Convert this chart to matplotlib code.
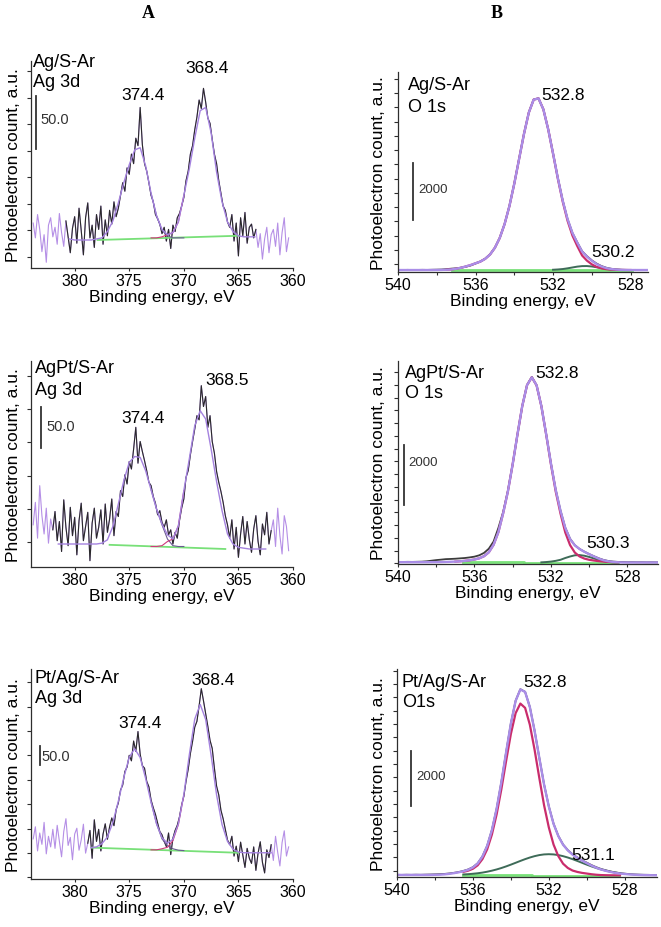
import numpy as np
import matplotlib.pyplot as plt
import matplotlib.transforms as mtransforms
from matplotlib.ticker import MultipleLocator

plt.rcParams['font.family'] = ['Liberation Sans', 'DejaVu Sans']

W, H = 661, 928

# ---------------- column A: Ag 3d ----------------
ag_energy = np.linspace(383.8, 360.4, 118)   # eV, measured points (0.2 eV step)

ag1_counts = [432, 418, 440, 426, 405, 421, 395, 430, 437, 419,
              428, 412, 441, 423, 410, 434, 419, 404, 427, 438,
              413, 446, 425, 402, 437, 451, 418, 430, 409, 440,
              426, 448, 412, 435, 420, 444, 431, 452, 438, 446,
              458, 470, 462, 484, 478, 497, 488, 512, 505, 541,
              506, 488, 481, 470, 458, 452, 440, 436, 431, 422,
              428, 415, 426, 408, 430, 424, 437, 441, 448, 456,
              472, 481, 497, 505, 520, 532, 548, 540, 559, 546,
              531, 526, 511, 497, 488, 472, 460, 448, 444, 433,
              428, 440, 415, 432, 401, 437, 420, 442, 413, 428,
              431, 418, 426, 409, 422, 398, 417, 428, 404, 421,
              426, 410, 432, 402, 423, 437, 405, 418]
ag2_counts = [421, 448, 405, 468, 432, 410, 441, 399, 428, 415,
              437, 402, 425, 389, 451, 418, 396, 442, 408, 430,
              385, 426, 447, 402, 419, 436, 378, 423, 441, 405,
              418, 439, 398, 446, 412, 428, 452, 408, 437, 431,
              462, 455, 481, 470, 497, 488, 512, 538, 495, 521,
              509, 498, 486, 472, 468, 455, 447, 433, 438, 424,
              418, 427, 409, 415, 398, 412, 405, 426, 441, 452,
              478, 486, 505, 521, 536, 552, 547, 588, 563, 575,
              538, 552, 521, 507, 485, 472, 461, 448, 432, 421,
              405, 427, 392, 418, 382, 410, 431, 398, 425, 403,
              388, 416, 432, 401, 385, 422, 409, 436, 398, 414,
              427, 395, 441, 408, 386, 432, 419, 390]
ag3_counts = [1105, 1138, 1072, 1121, 1090, 1150, 1064, 1112, 1083, 1131,
              1079, 1142, 1098, 1056, 1125, 1160, 1087, 1109, 1048, 1118,
              1134, 1074, 1102, 1145, 1066, 1093, 1128, 1052, 1157, 1098,
              1131, 1072, 1118, 1146, 1104, 1138, 1162, 1141, 1185, 1203,
              1238, 1252, 1289, 1301, 1333, 1318, 1372, 1344, 1398, 1336,
              1305, 1298, 1262, 1247, 1211, 1190, 1172, 1148, 1125, 1116,
              1098, 1084, 1121, 1062, 1107, 1128, 1142, 1165, 1198, 1221,
              1262, 1295, 1338, 1371, 1410, 1426, 1468, 1515, 1482, 1447,
              1412, 1374, 1352, 1298, 1249, 1225, 1183, 1160, 1131, 1102,
              1089, 1112, 1058, 1085, 1043, 1096, 1061, 1027, 1079, 1052,
              1038, 1083, 1019, 1066, 1097, 1041, 1012, 1075, 1054, 1089,
              1046, 1112, 1068, 1031, 1095, 1127, 1058, 1083]

# fitted envelopes (0.5 eV step)
ag1_fit_e = np.linspace(380.5, 363.5, 35)
ag1_fit = [417, 416, 416, 416, 416, 417, 418, 424, 434, 451,
           470, 487, 501, 503, 486, 460, 439, 426, 421, 423,
           433, 458, 483, 512, 538, 541, 517, 480, 452, 433,
           424, 420, 419, 419, 419]
ag2_fit_e = np.linspace(381.5, 362.5, 39)
ag2_fit = [398, 398, 398, 398, 398, 398, 398, 398, 399, 403,
           419, 446, 474, 496, 503, 502, 486, 463, 440, 422,
           409, 404, 420, 462, 500, 540, 558, 548, 512, 473,
           438, 410, 398, 394, 393, 392, 392, 392, 392]
ag3_fit_e = np.linspace(378.5, 362.0, 34)
ag3_fit = [1081, 1083, 1092, 1110, 1150, 1208, 1272, 1328, 1351, 1327,
           1270, 1205, 1146, 1108, 1093, 1104, 1146, 1226, 1334, 1432,
           1472, 1431, 1333, 1225, 1144, 1098, 1077, 1069, 1067, 1067,
           1067, 1067, 1067, 1067]

# 3d5/2 and 3d3/2 components where they separate (valley)
ag_valley_e = np.linspace(373.0, 370.0, 7)
ag1_comp_a = [460, 439, 425, 420, 418, 418, 418]
ag1_comp_b = [418, 418, 419, 421, 423, 433, 458]
ag2_comp_a = [463, 440, 421, 404, 396, 395, 395]
ag2_comp_b = [395, 395, 396, 401, 404, 420, 462]
ag3_comp_a = [1205, 1146, 1105, 1086, 1078, 1074, 1073]
ag3_comp_b = [1075, 1075, 1078, 1082, 1100, 1144, 1225]

# linear backgrounds
ag1_bg_e, ag1_bg = [377.9, 365.0], [416, 420]
ag2_bg_e, ag2_bg = [376.8, 366.2], [397, 392]
ag3_bg_e, ag3_bg = [378.4, 365.0], [1081, 1067]

# range of the fit (data drawn black inside, lilac outside)
ag_windows = [(363.3, 380.8), (361.8, 382.0), (362.0, 378.8)]

# ---------------- column B: O 1s ----------------
o1_energy = np.linspace(540.0, 527.0, 53)     # 0.25 eV step
o23_energy = np.linspace(540.0, 526.25, 56)

o1_counts = [1795, 1792, 1796, 1790, 1793, 1797, 1794, 1799, 1803, 1808,
             1822, 1838, 1850, 1872, 1905, 1950, 2020, 2090, 2190, 2340,
             2575, 2920, 3405, 4040, 4825, 5700, 6570, 7320, 7775, 7818,
             7435, 6733, 5888, 5015, 4230, 3580, 3095, 2760, 2450, 2275,
             2130, 2015, 1930, 1870, 1835, 1812, 1800, 1796, 1793, 1795,
             1791, 1794, 1790]
o1_fit = [1790, 1790, 1790, 1790, 1790, 1790, 1790, 1791, 1792, 1795,
          1800, 1810, 1835, 1870, 1915, 1965, 2026, 2087, 2184, 2335,
          2572, 2917, 3402, 4038, 4820, 5693, 6565, 7317, 7771, 7814,
          7432, 6729, 5884, 5010, 4225, 3577, 3092, 2752, 2438, 2260,
          2115, 1998, 1915, 1858, 1825, 1807, 1797, 1792, 1791, 1790,
          1790, 1790, 1790]
o1_main = [1790, 1790, 1790, 1790, 1790, 1790, 1790, 1791, 1792, 1795,
           1800, 1810, 1835, 1870, 1915, 1965, 2026, 2087, 2184, 2335,
           2572, 2917, 3402, 4038, 4820, 5693, 6565, 7317, 7771, 7814,
           7432, 6729, 5874, 4990, 4190, 3517, 3002, 2632, 2300, 2120,
           1990, 1900, 1850, 1820, 1805, 1797, 1793, 1791, 1790, 1790,
           1790, 1790, 1790]
o1_small_e = np.linspace(532.0, 528.5, 15)
o1_small = [1800, 1810, 1825, 1850, 1880, 1910, 1928, 1930, 1915, 1888,
            1855, 1828, 1810, 1800, 1794]

o2_counts = [1570, 1568, 1572, 1570, 1574, 1578, 1590, 1610, 1630, 1645,
             1662, 1668, 1676, 1688, 1700, 1720, 1745, 1790, 1870, 2010,
             2250, 2700, 3230, 3940, 4830, 5815, 6760, 7460, 7730, 7450,
             6760, 5830, 4850, 3975, 3280, 2710, 2340, 2125, 2000, 1910,
             1830, 1758, 1690, 1635, 1600, 1580, 1570, 1565, 1560, 1562,
             1558, 1560, 1556, 1558, 1555, 1557]
o2_fit = [1560, 1560, 1560, 1560, 1560, 1560, 1560, 1561, 1562, 1564,
          1568, 1573, 1580, 1590, 1605, 1625, 1650, 1690, 1760, 1890,
          2140, 2560, 3191, 3924, 4829, 5820, 6762, 7457, 7716, 7452,
          6757, 5825, 4849, 3969, 3271, 2700, 2330, 2120, 1997, 1905,
          1825, 1750, 1680, 1625, 1590, 1568, 1557, 1552, 1550, 1550,
          1550, 1550, 1550, 1550, 1550, 1550]
o2_main = [1560, 1560, 1560, 1560, 1560, 1560, 1560, 1561, 1562, 1564,
           1568, 1573, 1580, 1590, 1605, 1625, 1650, 1690, 1760, 1890,
           2140, 2560, 3191, 3924, 4829, 5820, 6762, 7457, 7716, 7447,
           6752, 5810, 4819, 3914, 3181, 2550, 2130, 1880, 1750, 1680,
           1640, 1615, 1595, 1580, 1570, 1560, 1555, 1552, 1550, 1550,
           1550, 1550, 1550, 1550, 1550, 1550]
o2_small_e = np.linspace(532.5, 528.5, 17)
o2_small = [1555, 1565, 1580, 1605, 1640, 1700, 1750, 1790, 1797, 1775,
            1735, 1685, 1635, 1595, 1570, 1558, 1552]

o3_counts = [1580, 1576, 1582, 1578, 1584, 1580, 1586, 1590, 1596, 1602,
             1612, 1628, 1652, 1680, 1722, 1775, 1858, 2000, 2248, 2635,
             3210, 3990, 4960, 6045, 7090, 7915, 8335, 8240, 7690, 6826,
             5835, 4870, 4072, 3440, 2996, 2684, 2478, 2326, 2212, 2110,
             2020, 1932, 1856, 1792, 1745, 1702, 1668, 1642, 1622, 1605,
             1594, 1586, 1580, 1578, 1574, 1572]
o3_fit = [1575, 1575, 1575, 1575, 1575, 1575, 1575, 1576, 1579, 1584,
          1596, 1614, 1640, 1670, 1711, 1764, 1848, 1991, 2240, 2628,
          3204, 3986, 4957, 6041, 7086, 7910, 8328, 8236, 7683, 6820,
          5828, 4862, 4064, 3431, 2988, 2674, 2468, 2315, 2200, 2097,
          2005, 1916, 1839, 1775, 1725, 1684, 1650, 1626, 1608, 1593,
          1583, 1575, 1570, 1567, 1564, 1562]
o3_main = [1575, 1575, 1575, 1575, 1575, 1575, 1575, 1576, 1578, 1582,
           1592, 1607, 1630, 1655, 1688, 1731, 1800, 1925, 2150, 2506,
           3044, 3781, 4700, 5725, 6706, 7463, 7813, 7656, 7044, 6131,
           5100, 4110, 3304, 2679, 2260, 1985, 1829, 1735, 1685, 1650,
           1625, 1600, 1582, 1570, 1565, 1562, 1560, 1560, 1560, 1560,
           1560, 1560, 1560, 1560, 1560, 1560]
o3_small = [1570, 1570, 1570, 1570, 1570, 1570, 1570, 1571, 1572, 1573,
            1574, 1577, 1580, 1585, 1593, 1603, 1618, 1636, 1660, 1692,
            1730, 1775, 1827, 1886, 1950, 2017, 2085, 2150, 2209, 2259,
            2298, 2322, 2330, 2322, 2298, 2259, 2209, 2150, 2085, 2017,
            1950, 1886, 1827, 1775, 1730, 1692, 1660, 1636, 1618, 1603,
            1593, 1585, 1580, 1577, 1574, 1573]

o1_bg_e, o1_bg = [537.2, 527.9], [1788, 1788]
o2_bg_e, o2_bg = [536.6, 533.4, 533.4, 528.5], [1560, 1560, 1527, 1527]
o3_bg_e, o3_bg = [536.5, 532.9, 532.9, 528.3], [1582, 1582, 1550, 1550]

o_windows = [(528.0, 537.5), (528.5, 537.0), (528.2, 536.5)]

samples = ['Ag/S-Ar', 'AgPt/S-Ar', 'Pt/Ag/S-Ar']
ag_peaks = [['374.4', '368.4'], ['374.4', '368.5'], ['374.4', '368.4']]
o_peaks = [['532.8', '530.2'], ['532.8', '530.3'], ['532.8', '531.1']]
o_level = ['O 1s', 'O 1s', 'O1s']

# colours
DARK = '#2a2a2a'
RAW_LILAC = '#b58fe6'
ENV_LILAC = '#a482df'
COMP_PURPLE = '#6b5a92'
COMP_PINK = '#d0387a'
BG_GREEN = '#78e078'
O_RED = '#c92c6c'
O_GREEN = '#3e6b58'
O_LILAC = '#aa8ee8'

fig = plt.figure(figsize=(W / 100, H / 100), dpi=100)


def add_axes(box):
    l, t, r, b = box
    return fig.add_axes([l / W, 1 - b / H, (r - l) / W, (b - t) / H])


def to_axes(box, x, y):
    l, t, r, b = box
    return (x - l) / (r - l), (b - y) / (b - t)


def decorate(ax, p):
    box = p['box']
    ax.set_xlim(*p['xlim'])
    ax.set_ylim(*p['ylim'])
    for s in ('top', 'right'):
        ax.spines[s].set_visible(False)
    for s in ('left', 'bottom'):
        ax.spines[s].set_linewidth(0.9)
        ax.spines[s].set_color('#2e2e2e')
    ax.xaxis.set_major_locator(MultipleLocator(p['xstep']))
    if p['xminor']:
        ax.xaxis.set_minor_locator(MultipleLocator(p['xminor']))
    ax.yaxis.set_major_locator(MultipleLocator(p['ystep'], offset=p['yoff']))
    ax.tick_params(axis='y', which='both', direction='out', length=3, width=0.8,
                   color='#2e2e2e', labelleft=False)
    ax.tick_params(axis='x', which='both', direction='out', length=2, width=0.8,
                   color='#2e2e2e', labelsize=11.5, pad=1.5)

    yx, _ = to_axes(box, p['ylabel_x'], 0)
    ax.text(yx, 0.5, 'Photoelectron count, a.u.', transform=ax.transAxes,
            rotation=90, ha='center', va='center', fontsize=12.5)
    _, xy = to_axes(box, 0, box[3] + 21)
    ax.text(0.5, xy, 'Binding energy, eV', transform=ax.transAxes,
            ha='center', va='top', fontsize=12.5)

    for s, x, y in p['names']:
        ax.text(*to_axes(box, x, y), s, transform=ax.transAxes,
                ha='left', va='baseline', fontsize=13)
    for s, x, y in p['peaks']:
        ax.text(*to_axes(box, x, y), s, transform=ax.transAxes,
                ha='center', va='baseline', fontsize=12.5)

    # scale bar
    bx, by = to_axes(box, p['bar_x'], p['bar_bottom'])
    y0 = p['ylim'][0] + by * (p['ylim'][1] - p['ylim'][0])
    trans = mtransforms.blended_transform_factory(ax.transAxes, ax.transData)
    ax.plot([bx, bx], [y0, y0 + p['bar_value']], transform=trans,
            color='#333333', lw=1.3, clip_on=False)
    lx, ly = to_axes(box, *p['bar_label'])
    ax.text(lx, ly, p['bar_text'], transform=ax.transAxes, ha='left',
            va='center', fontsize=p['bar_fs'], color='#333333')


def draw_ag(ax, counts, fit_e, fit, comp_a, comp_b, bg_e, bg, window):
    e = ag_energy
    y = np.array(counts)
    inside = (e >= window[0]) & (e <= window[1])
    ax.plot(e, y, color=RAW_LILAC, lw=0.8)
    ax.plot(e[inside], y[inside], color=DARK, lw=0.8)
    ax.plot(bg_e, bg, color=BG_GREEN, lw=1.3)
    ax.plot(ag_valley_e, comp_a, color=COMP_PURPLE, lw=0.8)
    ax.plot(ag_valley_e, comp_b, color=COMP_PINK, lw=0.8)
    ax.plot(fit_e, fit, color=ENV_LILAC, lw=1.0)


def draw_o(ax, e, counts, fit, main, small_e, small, bg_e, bg, window):
    e = np.asarray(e)
    sel = (e >= window[0]) & (e <= window[1])
    small_e = np.asarray(small_e)
    ssel = (small_e >= window[0]) & (small_e <= window[1])
    ax.plot(e, counts, color='#3c3c3c', lw=1.3)
    ax.plot(bg_e, bg, color=BG_GREEN, lw=2.0)
    ax.plot(small_e[ssel], np.asarray(small)[ssel], color=O_GREEN, lw=1.4)
    ax.plot(e[sel], np.asarray(main)[sel], color=O_RED, lw=1.6)
    ax.plot(e, fit, color=O_LILAC, lw=1.7)


ag_layout = [
    dict(box=(31, 62, 293, 269), ylim=(389.6, 584.8), ystep=25, yoff=0,
         names=[(samples[0], 33.3, 66.7), ('Ag 3d', 33.3, 86.7)],
         peaks=[(ag_peaks[0][0], 143.3, 100), (ag_peaks[0][1], 206.7, 73.3)],
         bar_x=36, bar_bottom=150, bar_label=(40, 120)),
    dict(box=(31, 362, 293, 568), ylim=(370.4, 617.6), ystep=40, yoff=0,
         names=[(samples[1], 35, 373.3), ('Ag 3d', 35, 395)],
         peaks=[(ag_peaks[1][0], 143.3, 423.3), (ag_peaks[1][1], 226.7, 385)],
         bar_x=40.7, bar_bottom=449.3, bar_label=(46, 426.7)),
    dict(box=(31, 670, 293, 880), ylim=(995.4, 1568.7), ystep=66.6, yoff=1.0,
         names=[(samples[2], 35, 683.3), ('Ag 3d', 35, 703.3)],
         peaks=[(ag_peaks[2][0], 140, 728.3), (ag_peaks[2][1], 213.3, 685)],
         bar_x=40, bar_bottom=765.7, bar_label=(41.7, 756.7)),
]
for p in ag_layout:
    p.update(xlim=(384.0, 360.0), xstep=5, xminor=None, ylabel_x=13.3,
             bar_value=50.0, bar_text='50.0', bar_fs=10.5)

o_layout = [
    dict(box=(398, 73, 648, 273), xlim=(540.0, 527.1), ylim=(1721, 8741),
         ystep=500, yoff=0,
         names=[(samples[0], 408.3, 90), (o_level[0], 408.3, 111.7)],
         peaks=[(o_peaks[0][0], 563.3, 100), (o_peaks[0][1], 613.3, 256.7)],
         bar_x=412.7, bar_bottom=220.7, bar_label=(418.3, 189.5)),
    dict(box=(398, 362, 658, 565), xlim=(540.0, 526.4), ylim=(1500, 8260),
         ystep=425, yoff=243,
         names=[(samples[1], 405, 378.3), (o_level[1], 405, 398.3)],
         peaks=[(o_peaks[1][0], 556.7, 378.3), (o_peaks[1][1], 608.3, 548.3)],
         bar_x=404, bar_bottom=506, bar_label=(408.3, 462.8)),
    dict(box=(397, 670, 657, 878), xlim=(540.0, 526.3), ylim=(1500, 9071),
         ystep=485, yoff=274,
         names=[(samples[2], 401.7, 686.7), (o_level[2], 401.7, 706.7)],
         peaks=[(o_peaks[2][0], 545, 686.7), (o_peaks[2][1], 593.3, 860)],
         bar_x=410.7, bar_bottom=806.7, bar_label=(416, 777)),
]
for p in o_layout:
    p.update(xstep=4, xminor=2, ylabel_x=378.3,
             bar_value=2000, bar_text='2000', bar_fs=9.5)

ag_series = [
    (ag1_counts, ag1_fit_e, ag1_fit, ag1_comp_a, ag1_comp_b, ag1_bg_e, ag1_bg),
    (ag2_counts, ag2_fit_e, ag2_fit, ag2_comp_a, ag2_comp_b, ag2_bg_e, ag2_bg),
    (ag3_counts, ag3_fit_e, ag3_fit, ag3_comp_a, ag3_comp_b, ag3_bg_e, ag3_bg),
]
o_series = [
    (o1_energy, o1_counts, o1_fit, o1_main, o1_small_e, o1_small, o1_bg_e, o1_bg),
    (o23_energy, o2_counts, o2_fit, o2_main, o2_small_e, o2_small, o2_bg_e, o2_bg),
    (o23_energy, o3_counts, o3_fit, o3_main, o23_energy, o3_small, o3_bg_e, o3_bg),
]

for p, s, w in zip(ag_layout, ag_series, ag_windows):
    ax = add_axes(p['box'])
    draw_ag(ax, *s, w)
    decorate(ax, p)

for p, s, w in zip(o_layout, o_series, o_windows):
    ax = add_axes(p['box'])
    draw_o(ax, *s, w)
    decorate(ax, p)

fig.text(148 / W, 1 - 13 / H, 'A', ha='center', va='center', fontsize=13,
         fontweight='bold', family=['Liberation Serif', 'DejaVu Serif'])
fig.text(497 / W, 1 - 13 / H, 'B', ha='center', va='center', fontsize=13,
         fontweight='bold', family=['Liberation Serif', 'DejaVu Serif'])

fig.savefig('out.png', dpi=100)
